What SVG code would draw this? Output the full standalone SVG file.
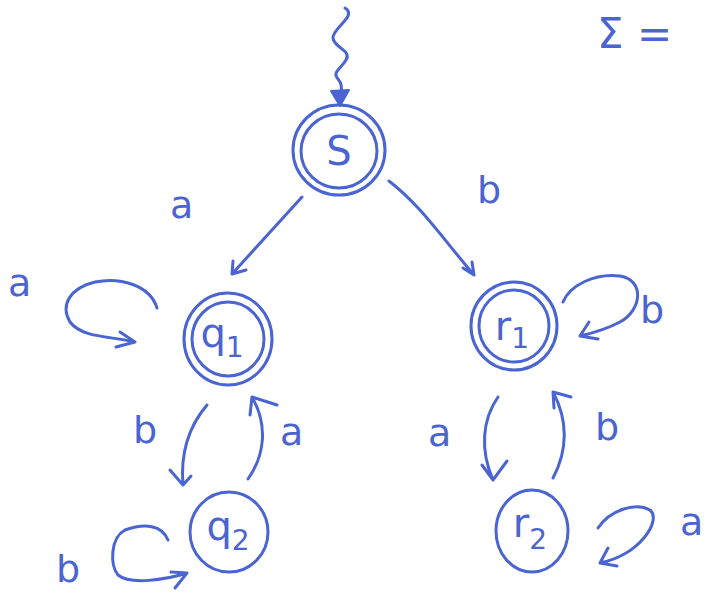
<svg xmlns="http://www.w3.org/2000/svg" width="715" height="597" viewBox="0 0 715 597">
<style>
.s{fill:none;stroke:#4a64d2;stroke-width:3;stroke-linecap:round;stroke-linejoin:round}
.t{fill:#4a64d2;font-family:"DejaVu Sans",sans-serif;font-size:38px}
.n{fill:#4a64d2;font-family:"DejaVu Sans",sans-serif;font-size:40px}
.sub{font-size:28px}
</style>
<rect width="715" height="597" fill="#fff"/>
<text class="t" x="597" y="48" style="font-size:42px">Σ =</text>
<g id="S">
<ellipse class="s" cx="339" cy="150" rx="46" ry="45"/>
<ellipse class="s" cx="339" cy="151" rx="38" ry="37"/>
<text class="n" x="339" y="165" text-anchor="middle">S</text>
</g>
<g id="q1">
<ellipse class="s" cx="228" cy="339" rx="44" ry="46"/>
<ellipse class="s" cx="228" cy="339" rx="36" ry="37"/>
<text class="n" x="222" y="347" text-anchor="middle">q<tspan class="sub" dy="10">1</tspan></text>
</g>
<g id="r1">
<ellipse class="s" cx="514" cy="326" rx="43" ry="44"/>
<ellipse class="s" cx="514" cy="326" rx="35" ry="36"/>
<text class="n" x="512" y="340" text-anchor="middle">r<tspan class="sub" dy="8">1</tspan></text>
</g>
<g id="q2">
<ellipse class="s" cx="229" cy="532" rx="39" ry="40"/>
<text class="n" x="228" y="540" text-anchor="middle">q<tspan class="sub" dy="10">2</tspan></text>
</g>
<g id="r2">
<ellipse class="s" cx="532" cy="531" rx="36" ry="41"/>
<text class="n" x="530" y="537" text-anchor="middle">r<tspan class="sub" dy="12">2</tspan></text>
</g>
<g id="connectors">
<path class="s" d="M345,8 C358,16 332,28 333,38 C334,48 352,50 346,60 C340,70 332,72 338,79 C344,86 340,92 341,99"/>
<path d="M331,91 L349,90 L340,106 Z" fill="#4a64d2" stroke="#4a64d2" stroke-width="2" stroke-linejoin="round"/>
<path class="s" d="M302,197 L232,274 M232,274 L233,261 M232,274 L246,270"/>
<path class="s" d="M389,181 C420,205 440,235 474,275 M474,275 L463,268 M474,275 L472,262"/>
<path class="s" d="M157,308 C150,285 120,277 95,282 C70,288 60,305 70,322 C82,338 110,336 135,342 M135,342 L120,332 M135,342 L116,347"/>
<path class="s" d="M563,302 C570,285 595,273 620,276 C645,280 642,310 620,322 C605,330 593,333 580,336 M580,336 L589,322 M580,336 L598,339"/>
<path class="s" d="M207,405 C190,425 180,450 183,485 M183,485 L170,470 M183,485 L191,476"/>
<path class="s" d="M248,479 C265,455 268,425 252,397 M252,397 L250,415 M252,397 L277,405"/>
<path class="s" d="M498,397 C482,420 480,450 493,480 M493,480 L482,465 M493,480 L507,461"/>
<path class="s" d="M553,478 C568,450 568,420 553,392 M553,392 L554,408 M553,392 L571,397"/>
<path class="s" d="M168,540 C162,525 145,523 125,530 C110,538 110,565 118,575 C130,585 165,580 187,573 M187,573 L171,572 M187,573 L175,588"/>
<path class="s" d="M598,528 C610,510 635,502 650,510 C662,520 640,555 600,563 M600,563 L608,548 M600,563 L617,566"/>
</g>
<g id="labels">
<text class="t" x="170" y="218">a</text>
<text class="t" x="477" y="203">b</text>
<text class="t" x="8" y="296">a</text>
<text class="t" x="640" y="323">b</text>
<text class="t" x="133" y="443">b</text>
<text class="t" x="280" y="445">a</text>
<text class="t" x="428" y="446">a</text>
<text class="t" x="595" y="440">b</text>
<text class="t" x="56" y="582">b</text>
<text class="t" x="680" y="535">a</text>
</g>
</svg>
